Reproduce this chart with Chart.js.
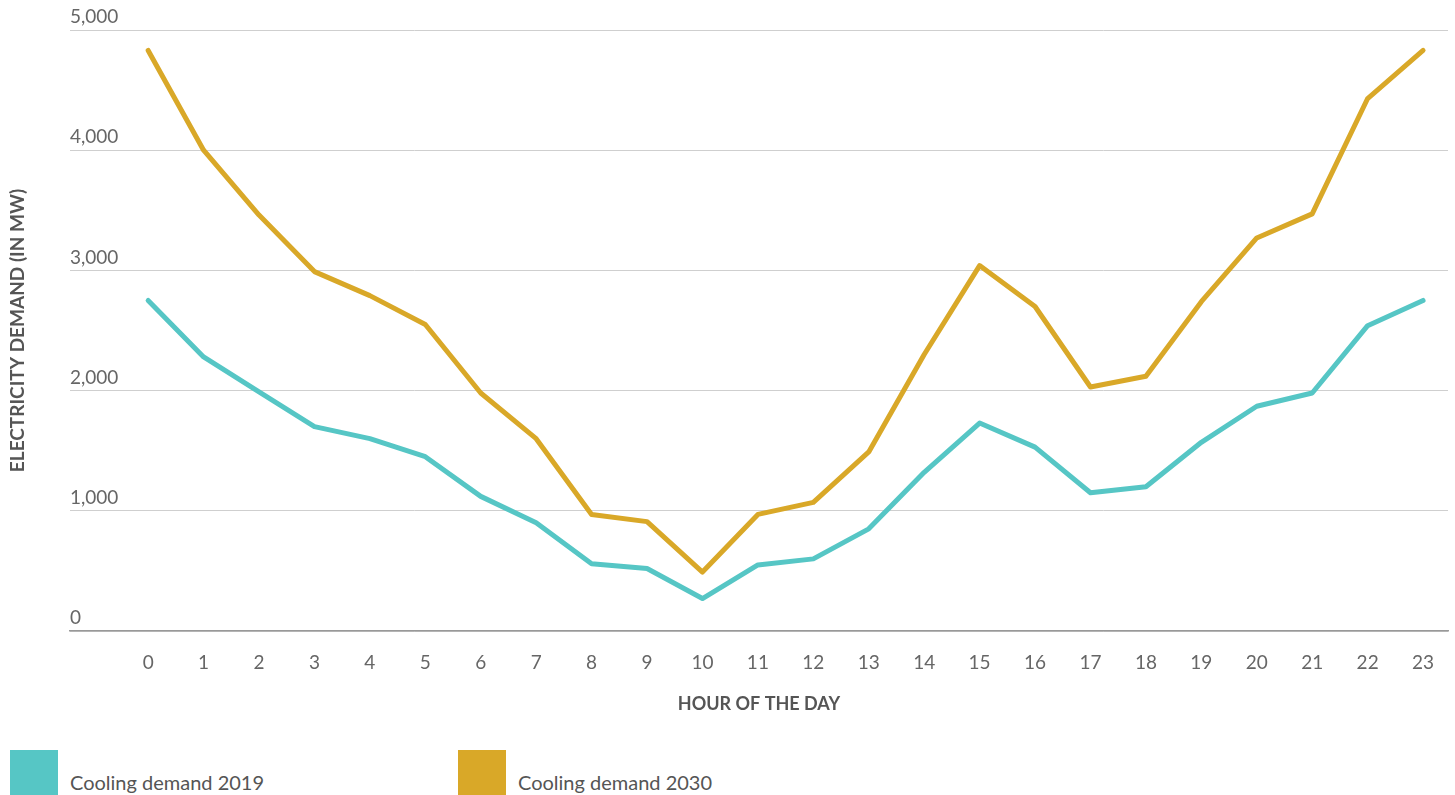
<!DOCTYPE html>
<html>
<head>
<meta charset="utf-8">
<script src="https://cdn.jsdelivr.net/npm/chart.js@4.4.1/dist/chart.umd.min.js"></script>
<style>
  body { margin: 0; background: #fff; font-family: Lato, sans-serif; }
  #wrap { position: relative; width: 1455px; height: 725px; }
  .legend { position: absolute; top: 750px; left: 0; width: 1455px; height: 45px; }
  .item { position: absolute; top: 0; }
  .swatch { position: absolute; top: 0; left: 0; width: 48px; height: 45px; }
  .label { position: absolute; left: 60px; top: 20px; white-space: nowrap; font-size: 20px; color: #555; }
</style>
</head>
<body>
<div id="wrap"><canvas id="cooling-chart"></canvas></div>
<div class="legend">
  <div class="item" style="left:10px"><div class="swatch" style="background:#56C6C5"></div><div class="label">Cooling demand 2019</div></div>
  <div class="item" style="left:458px"><div class="swatch" style="background:#D9A828"></div><div class="label">Cooling demand 2030</div></div>
</div>
<script>
// Hourly cooling electricity demand (MW)
const hours = [0, 1, 2, 3, 4, 5, 6, 7, 8, 9, 10, 11, 12, 13, 14, 15, 16, 17, 18, 19, 20, 21, 22, 23];
const demand2019 = [2750, 2280, 1990, 1700, 1600, 1450, 1120, 900, 560, 520, 270, 550, 600, 850, 1320, 1730, 1530, 1150, 1200, 1570, 1870, 1980, 2540, 2750];
const demand2030 = [4830, 4000, 3460, 2990, 2790, 2550, 1980, 1600, 970, 910, 490, 970, 1070, 1490, 2300, 3040, 2700, 2030, 2120, 2740, 3270, 3470, 4430, 4830];
const yTicks = [0, 1000, 2000, 3000, 4000, 5000];

const teal = '#56C6C5';
const gold = '#D9A828';

function toPoints(values) {
    return hours.map(function(h, i) { return { x: h, y: values[i] }; });
}

document.addEventListener('DOMContentLoaded', function() {
    Chart.defaults.font.family = 'Lato, sans-serif';
    Chart.defaults.color = '#666';

    const ctx = document.getElementById('cooling-chart');
    new Chart(ctx, {
        type: 'line',
        data: {
            datasets: [
                {
                    label: 'Cooling demand 2019',
                    data: toPoints(demand2019),
                    borderColor: teal,
                    borderWidth: 5,
                    borderCapStyle: 'round',
                    borderJoinStyle: 'round',
                    pointRadius: 0,
                    tension: 0
                },
                {
                    label: 'Cooling demand 2030',
                    data: toPoints(demand2030),
                    borderColor: gold,
                    borderWidth: 5,
                    borderCapStyle: 'round',
                    borderJoinStyle: 'round',
                    pointRadius: 0,
                    tension: 0
                }
            ]
        },
        options: {
            responsive: true,
            maintainAspectRatio: false,
            animation: false,
            layout: { padding: { top: 30, right: 7, left: 0, bottom: 0 } },
            plugins: {
                legend: { display: false },
                tooltip: { enabled: false }
            },
            scales: {
                x: {
                    type: 'linear',
                    min: -1.41,
                    max: 23.45,
                    afterFit: function(scale) { scale.height = 94; },
                    grid: { display: false },
                    border: { display: true, color: '#999', width: 1.5 },
                    ticks: {
                        stepSize: 1,
                        includeBounds: false,
                        autoSkip: false,
                        maxRotation: 0,
                        padding: 12,
                        font: { size: 19 },
                        color: '#666',
                        callback: function(value) {
                            return hours.includes(value) ? String(value) : '';
                        }
                    },
                    title: {
                        display: true,
                        text: 'HOUR OF THE DAY',
                        color: '#555',
                        font: { size: 18, weight: 'bold' },
                        padding: { top: 13, bottom: 10 }
                    }
                },
                y: {
                    min: 0,
                    max: 5000,
                    afterFit: function(scale) { scale.width = 70; },
                    afterBuildTicks: function(scale) {
                        scale.ticks = yTicks.map(function(v) { return { value: v }; });
                    },
                    grid: { color: '#cfcfcf', lineWidth: 1, drawTicks: false },
                    border: { display: false },
                    ticks: {
                        mirror: true,
                        padding: 0,
                        labelOffset: -13,
                        font: { size: 19 },
                        color: '#666',
                        callback: function(value) { return value.toLocaleString('en-US'); }
                    },
                    title: {
                        display: true,
                        text: 'ELECTRICITY DEMAND (IN MW)',
                        color: '#555',
                        font: { size: 19, weight: 'bold' },
                        padding: { top: 6, bottom: 0 }
                    }
                }
            }
        }
    });
});
</script>
</body>
</html>
